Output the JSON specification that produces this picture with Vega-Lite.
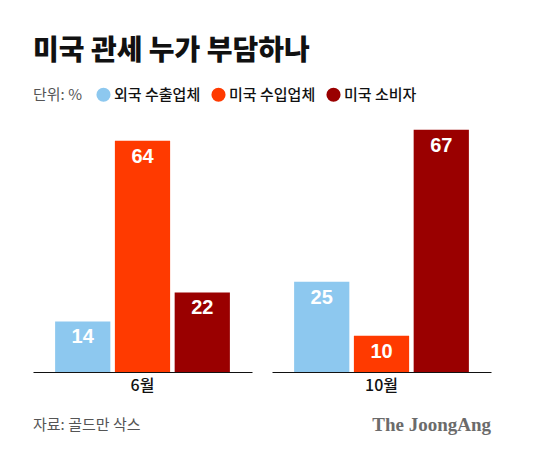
{
  "$schema": "https://vega.github.io/schema/vega-lite/v6.json",
  "background": "white",
  "padding": {"left": 33, "top": 38, "right": 68, "bottom": 5},
  "title": {
    "text": "미국 관세 누가 부담하나",
    "anchor": "start",
    "font": "Noto Sans CJK KR",
    "fontSize": 28,
    "fontWeight": 900,
    "color": "#111111",
    "offset": 21
  },
  "config": {
    "view": {"stroke": null},
    "font": "Noto Sans CJK KR"
  },
  "spacing": 21,
  "vconcat": [
    {
      "data": {
        "values": [
          {"month": "6월", "series": "외국 수출업체", "value": 14},
          {"month": "6월", "series": "미국 수입업체", "value": 64},
          {"month": "6월", "series": "미국 소비자", "value": 22},
          {"month": "10월", "series": "외국 수출업체", "value": 25},
          {"month": "10월", "series": "미국 수입업체", "value": 10},
          {"month": "10월", "series": "미국 소비자", "value": 67}
        ]
      },
      "facet": {
        "column": {
          "field": "month",
          "type": "nominal",
          "sort": ["6월", "10월"],
          "title": null,
          "header": {
            "labelOrient": "bottom",
            "labelFont": "Noto Sans CJK KR",
            "labelFontSize": 16,
            "labelFontWeight": 500,
            "labelColor": "#111111",
            "labelPadding": 6
          }
        }
      },
      "spacing": 20,
      "spec": {
        "width": 219,
        "height": 253,
        "layer": [
          {
            "mark": {"type": "bar"},
            "encoding": {
              "x": {
                "field": "series",
                "type": "nominal",
                "sort": ["외국 수출업체", "미국 수입업체", "미국 소비자"],
                "scale": {"paddingInner": 0.076, "paddingOuter": 0.37},
                "axis": {"domain": true, "domainColor": "#111111", "domainWidth": 1.2, "labels": false, "ticks": false, "title": null, "grid": false}
              },
              "y": {
                "field": "value",
                "type": "quantitative",
                "scale": {"domain": [0, 70]},
                "axis": null
              },
              "color": {
                "field": "series",
                "type": "nominal",
                "scale": {
                  "domain": ["외국 수출업체", "미국 수입업체", "미국 소비자"],
                  "range": ["#8DC8EF", "#FF3A00", "#9A0000"]
                },
                "legend": {
                  "orient": "top",
                  "direction": "horizontal",
                  "title": "단위: %",
                  "titleOrient": "left",
                  "titleFont": "Noto Sans CJK KR",
                  "titleFontSize": 15,
                  "titleFontWeight": "normal",
                  "titleColor": "#555555",
                  "titlePadding": 14,
                  "symbolType": "circle",
                  "symbolSize": 200,
                  "symbolStrokeWidth": 0,
                  "symbolOpacity": 1,
                  "labelFont": "Noto Sans CJK KR",
                  "labelFontSize": 15,
                  "labelFontWeight": 500,
                  "labelColor": "#111111",
                  "labelOffset": 3,
                  "columnPadding": 10,
                  "offset": 16,
                  "padding": 0
                }
              }
            }
          },
          {
            "mark": {"type": "text", "baseline": "middle", "dy": 16, "color": "white", "font": "Liberation Sans", "fontSize": 20, "fontWeight": "bold"},
            "encoding": {
              "x": {"field": "series", "type": "nominal", "sort": ["외국 수출업체", "미국 수입업체", "미국 소비자"]},
              "y": {"field": "value", "type": "quantitative"},
              "text": {"field": "value", "type": "quantitative"}
            }
          }
        ]
      }
    },
    {
      "width": 458,
      "height": 20,
      "data": {
        "values": [
          {"label": "자료: 골드만 삭스", "pos": 0},
          {"label": "The JoongAng", "pos": 1}
        ]
      },
      "layer": [
        {
          "transform": [{"filter": "datum.pos == 0"}],
          "mark": {"type": "text", "align": "left", "baseline": "middle", "font": "Noto Sans CJK KR", "fontSize": 15, "color": "#555555"},
          "encoding": {
            "x": {"field": "pos", "type": "quantitative", "scale": {"domain": [0, 1]}, "axis": null},
            "text": {"field": "label"}
          }
        },
        {
          "transform": [{"filter": "datum.pos == 1"}],
          "mark": {"type": "text", "align": "right", "baseline": "middle", "font": "Liberation Serif", "fontSize": 19, "fontWeight": "bold", "color": "#6B6B6B"},
          "encoding": {
            "x": {"field": "pos", "type": "quantitative", "scale": {"domain": [0, 1]}, "axis": null},
            "text": {"field": "label"}
          }
        }
      ]
    }
  ]
}
